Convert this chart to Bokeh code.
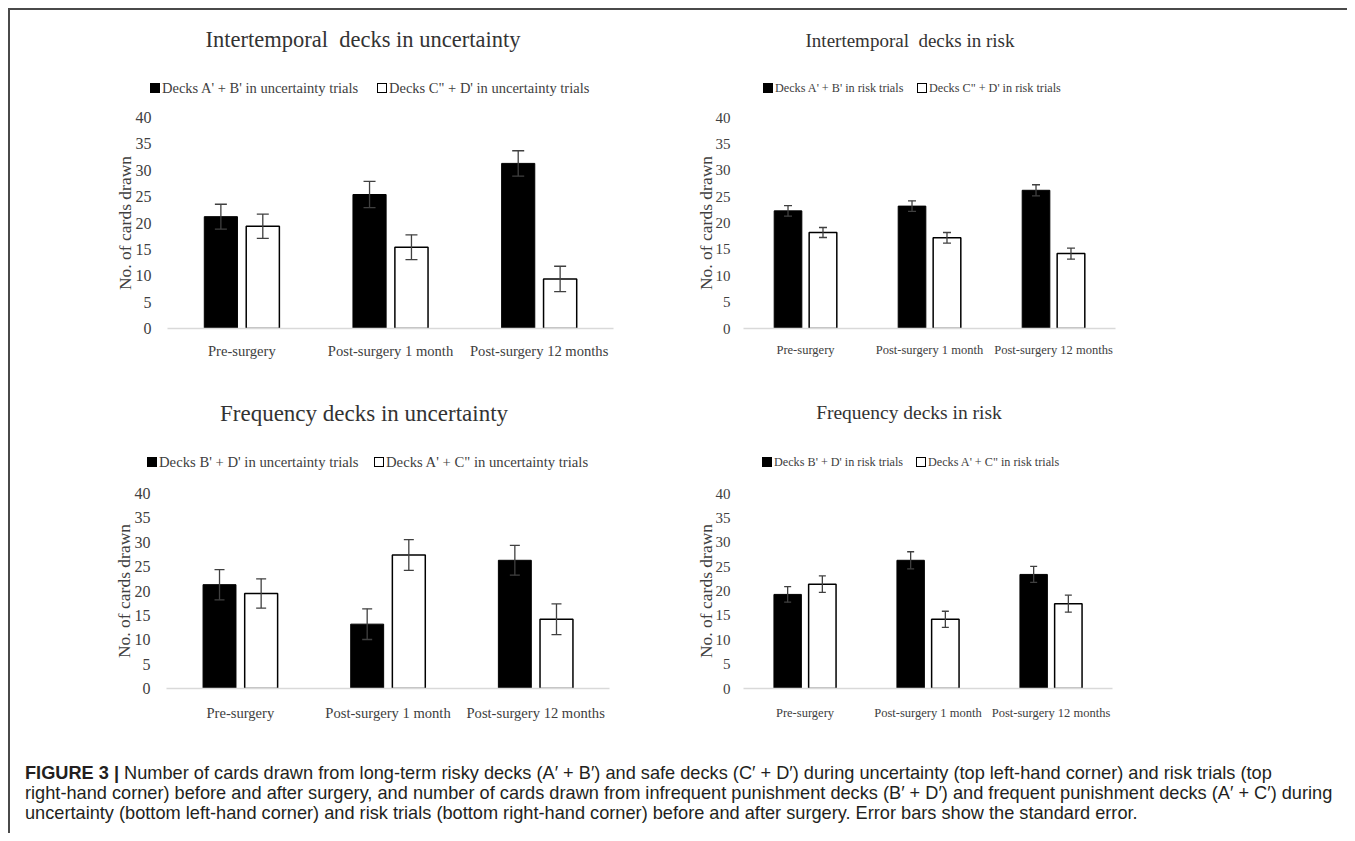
from bokeh.plotting import figure
from bokeh.models import (ColumnDataSource, FactorRange, Range1d, FixedTicker,
                          Whisker, TeeHead, Div)
from bokeh.transform import dodge
from bokeh.layouts import row, column
from bokeh.embed import file_html
from bokeh.resources import INLINE

# ---------------- data ----------------
categories = ["Pre-surgery", "Post-surgery 1 month", "Post-surgery 12 months"]
y_ticks = [0, 5, 10, 15, 20, 25, 30, 35, 40]

titles = ["Intertemporal  decks in uncertainty", "Intertemporal  decks in risk",
          "Frequency decks in uncertainty", "Frequency decks in risk"]

legend_black = ["Decks A' + B' in uncertainty trials", "Decks A' + B' in risk trials",
                "Decks B' + D' in uncertainty trials", "Decks B' + D' in risk trials"]
legend_white = ['Decks C" + D\' in uncertainty trials', 'Decks C" + D\' in risk trials',
                'Decks A\' + C" in uncertainty trials', 'Decks A\' + C" in risk trials']

# top-left: intertemporal decks, uncertainty trials
ab_unc = [21.2, 25.4, 31.3]
ab_unc_se = [2.35, 2.5, 2.4]
cd_unc = [19.4, 15.4, 9.4]
cd_unc_se = [2.3, 2.35, 2.4]

# top-right: intertemporal decks, risk trials
ab_risk = [22.3, 23.2, 26.2]
ab_risk_se = [1.0, 1.0, 1.05]
cd_risk = [18.2, 17.2, 14.2]
cd_risk_se = [0.95, 1.0, 1.05]

# bottom-left: frequency decks, uncertainty trials
bd_unc = [21.3, 13.2, 26.3]
bd_unc_se = [3.1, 3.15, 3.05]
ac_unc = [19.5, 27.4, 14.2]
ac_unc_se = [3.0, 3.15, 3.15]

# bottom-right: frequency decks, risk trials
bd_risk = [19.3, 26.3, 23.4]
bd_risk_se = [1.6, 1.75, 1.65]
ac_risk = [21.4, 14.2, 17.4]
ac_risk_se = [1.7, 1.65, 1.75]

caption_bold = "FIGURE 3 |"
caption_lines = [
    " Number of cards drawn from long-term risky decks (A\u2032 + B\u2032) and safe decks (C\u2032 + D\u2032) during uncertainty (top left-hand corner) and risk trials (top",
    "right-hand corner) before and after surgery, and number of cards drawn from infrequent punishment decks (B\u2032 + D\u2032) and frequent punishment decks (A\u2032 + C\u2032) during",
    "uncertainty (bottom left-hand corner) and risk trials (bottom right-hand corner) before and after surgery. Error bars show the standard error.",
]

# ---------------- style / geometry ----------------
SERIF = "Liberation Serif"
TXT = "#404040"
ERR = "#404040"
OFF = 0.141
BW = 0.223

# chart geometry: figure size and min borders (frame placement)
GEO = {
    "tl": dict(w=670, h=273, l=157, r=67, t=10, b=52, cap=12, ys=10, xs=8, als=-2, fs_tick=16, fs_x=14.6),
    "tr": dict(w=667, h=273, l=63, r=232, t=10, b=52, cap=8, ys=7, xs=8, als=-3, fs_tick=15, fs_x=12.5),
    "bl": dict(w=670, h=252, l=156, r=71, t=10, b=42, cap=10, ys=10, xs=10, als=-2, fs_tick=16, fs_x=14.6),
    "br": dict(w=667, h=252, l=63, r=235, t=10, b=47, cap=7, ys=7, xs=11, als=-3, fs_tick=15, fs_x=12.5),
}
# header geometry (title centre, legend row centre and key positions, in header pixels)
HEAD = {
    "tl": dict(w=670, h=97, tx=353, ty=30, fs_t=22.5, ly=78, k1=140, k2=367, fs_l=14.5),
    "tr": dict(w=667, h=97, tx=230, ty=30, fs_t=19, ly=78, k1=83, k2=237, fs_l=12.2),
    "bl": dict(w=670, h=103, tx=354, ty=33, fs_t=23, ly=82, k1=137, k2=364, fs_l=14.7),
    "br": dict(w=667, h=103, tx=229, ty=33, fs_t=19.5, ly=82, k1=82, k2=236, fs_l=12.2),
}


def make_header(title, lab_b, lab_w, h):
    def key(x, fill):
        return (f'<span style="position:absolute;left:{x}px;top:{h["ly"] - 5}px;width:10px;height:10px;'
                f'box-sizing:border-box;border:1px solid #000;background:{fill};"></span>')

    def lab(x, text):
        return (f'<span style="position:absolute;left:{x + 12}px;top:{h["ly"]}px;transform:translateY(-50%);'
                f'white-space:pre;font-size:{h["fs_l"]}px;line-height:1;color:{TXT};">{text}</span>')

    html = (
        f'<div style="position:relative;width:{h["w"]}px;height:{h["h"]}px;font-family:\'{SERIF}\',serif;">'
        f'<span style="position:absolute;left:{h["tx"]}px;top:{h["ty"]}px;transform:translate(-50%,-50%);'
        f'white-space:pre;font-size:{h["fs_t"]}px;line-height:1;color:#333333;">{title}</span>'
        + key(h["k1"], "#000000") + lab(h["k1"], lab_b)
        + key(h["k2"], "#ffffff") + lab(h["k2"], lab_w)
        + '</div>'
    )
    return Div(text=html, width=h["w"], height=h["h"], margin=0)


def make_panel(black, black_se, white, white_se, g):
    src = ColumnDataSource(dict(
        cat=categories, black=black, white=white,
        b_up=[v + e for v, e in zip(black, black_se)],
        b_lo=[v - e for v, e in zip(black, black_se)],
        w_up=[v + e for v, e in zip(white, white_se)],
        w_lo=[v - e for v, e in zip(white, white_se)],
    ))
    p = figure(x_range=FactorRange(*categories), y_range=Range1d(0, 40),
               width=g["w"], height=g["h"],
               min_border_left=g["l"], min_border_right=g["r"],
               min_border_top=g["t"], min_border_bottom=g["b"],
               output_backend="svg", toolbar_location=None, tools="")
    p.outline_line_color = None
    p.xgrid.visible = False
    p.ygrid.visible = False
    p.background_fill_color = "white"
    p.border_fill_color = "white"

    p.vbar(x=dodge("cat", -OFF, range=p.x_range), top="black", width=BW, source=src,
           fill_color="black", line_color="black", line_width=1)
    p.vbar(x=dodge("cat", OFF, range=p.x_range), top="white", width=BW, source=src,
           fill_color="white", line_color="black", line_width=1.5)

    for key, off in (("b", -OFF), ("w", OFF)):
        wh = Whisker(base=dodge("cat", off, range=p.x_range), upper=f"{key}_up", lower=f"{key}_lo",
                     source=src, level="overlay", line_color=ERR, line_width=1.3,
                     upper_head=TeeHead(size=g["cap"], line_color=ERR, line_width=1.3),
                     lower_head=TeeHead(size=g["cap"], line_color=ERR, line_width=1.3))
        p.add_layout(wh)

    # y axis
    ya = p.yaxis[0]
    ya.ticker = FixedTicker(ticks=y_ticks)
    ya.axis_line_color = None
    ya.major_tick_line_color = None
    ya.minor_tick_line_color = None
    ya.major_label_standoff = g["ys"]
    ya.major_label_text_font = SERIF
    ya.major_label_text_font_size = f"{g['fs_tick']}px"
    ya.major_label_text_color = TXT
    ya.axis_label = "No. of cards drawn"
    ya.axis_label_text_font = SERIF
    ya.axis_label_text_font_size = "17.5px"
    ya.axis_label_text_font_style = "normal"
    ya.axis_label_text_color = TXT
    ya.axis_label_standoff = g["als"]

    # x axis
    xa = p.xaxis[0]
    xa.axis_line_color = "#d9d9d9"
    xa.axis_line_width = 1.3
    xa.major_tick_line_color = None
    xa.minor_tick_line_color = None
    xa.major_label_standoff = g["xs"]
    xa.major_label_text_font = SERIF
    xa.major_label_text_font_size = f"{g['fs_x']}px"
    xa.major_label_text_color = TXT
    return p


h_tl = make_header(titles[0], legend_black[0], legend_white[0], HEAD["tl"])
h_tr = make_header(titles[1], legend_black[1], legend_white[1], HEAD["tr"])
h_bl = make_header(titles[2], legend_black[2], legend_white[2], HEAD["bl"])
h_br = make_header(titles[3], legend_black[3], legend_white[3], HEAD["br"])

p_tl = make_panel(ab_unc, ab_unc_se, cd_unc, cd_unc_se, GEO["tl"])
p_tr = make_panel(ab_risk, ab_risk_se, cd_risk, cd_risk_se, GEO["tr"])
p_bl = make_panel(bd_unc, bd_unc_se, ac_unc, ac_unc_se, GEO["bl"])
p_br = make_panel(bd_risk, bd_risk_se, ac_risk, ac_risk_se, GEO["br"])

caption_html = (
    '<div style="padding:28px 0 0 15px;font-family:\'Liberation Sans\',Arial,sans-serif;'
    'font-size:18.2px;line-height:20px;color:#231f20;white-space:nowrap;">'
    '<b>' + caption_bold + '</b>' + caption_lines[0] + '<br>' + caption_lines[1] + '<br>'
    + caption_lines[2] + '</div>'
)
caption = Div(text=caption_html, width=1337, height=98, margin=0)

LINE = "#4a4a4a"
top_line = Div(text="", width=1337, height=2, margin=0, styles={"background-color": LINE})
left_line = Div(text="", width=2, height=825, margin=0, styles={"background-color": LINE})

content = column(top_line,
                 row(h_tl, h_tr, spacing=0), row(p_tl, p_tr, spacing=0),
                 row(h_bl, h_br, spacing=0), row(p_bl, p_br, spacing=0),
                 caption, spacing=0)
layout = row(left_line, content, spacing=0, margin=(8, 0, 0, 8))

open("out.html", "w").write(file_html(layout, INLINE))
